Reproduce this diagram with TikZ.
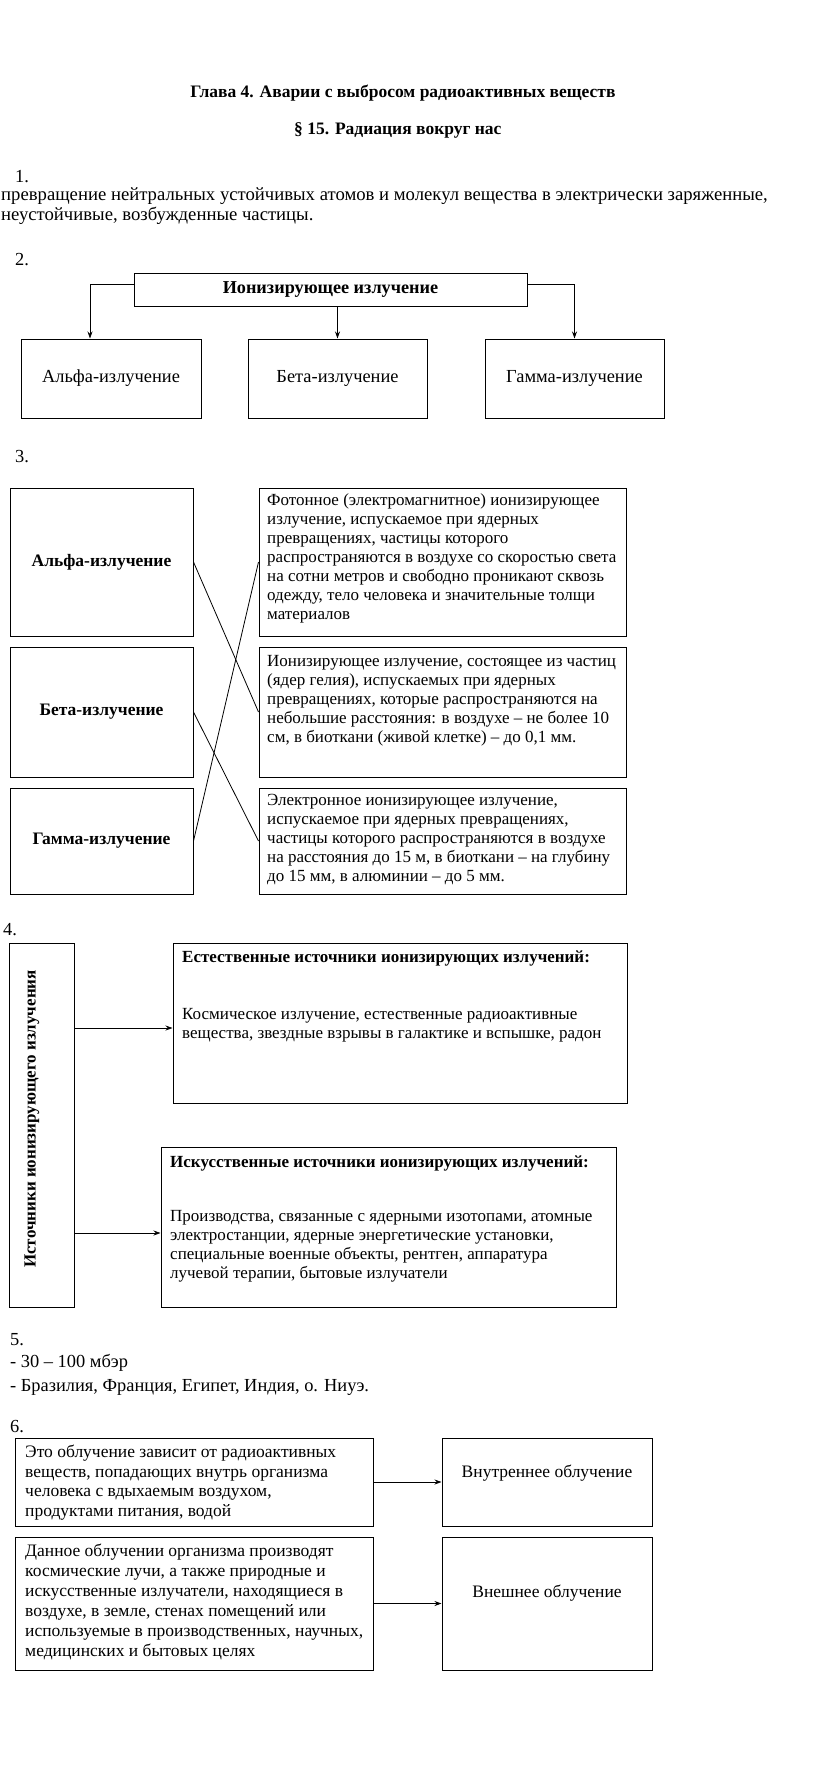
\documentclass[tikz,border=0pt]{standalone}
\usepackage{fontspec}
\setmainfont{Liberation Serif}
\usetikzlibrary{arrows.meta, positioning}

\begin{document}
\begin{tikzpicture}[
    x=1pt, y=-1pt,
    node distance=46pt,
    every node/.style={font=\fontsize{17}{19}\selectfont, inner sep=0pt},
    box/.style={draw, line width=1pt},
    txt/.style={anchor=north west, align=left},
    head/.style={font=\fontsize{17}{19}\selectfont\bfseries},
    big/.style={font=\fontsize{18.4}{20}\selectfont},
    num/.style={anchor=west, big},
    arrow/.style={-{Stealth[length=7pt, width=5pt]}, line width=0.8pt},
    link/.style={line width=0.8pt}
]
    \useasboundingbox (0,0) rectangle (823,1782);

    % heading
    \node[head, font=\fontsize{17.5}{19}\selectfont\bfseries] (title) at (403,93) {Глава 4. Аварии с выбросом радиоактивных веществ};
    \node[head, font=\fontsize{17.5}{19}\selectfont\bfseries, anchor=west] (par) at (294,130) {\S~15. Радиация вокруг нас};

    % 1
    \node[num] (n1) at (15,177) {1.};
    \node[txt, font=\fontsize{18.7}{20}\selectfont] (def) at (1,187) {превращение нейтральных устойчивых атомов и молекул вещества в электрически заряженные,\\неустойчивые, возбужденные частицы.};

    % 2
    \node[num] (n2) at (15,260) {2.};
    \node[box, font=\fontsize{18.2}{19}\selectfont\bfseries, minimum width=393pt, minimum height=33pt] (ion) at (330.5,289.5) {Ионизирующее излучение};
    \node[box, big, minimum width=180pt, minimum height=79pt] (alpha) at (111,378.5) {Альфа-излучение};
    \node[box, big, minimum width=179pt, minimum height=79pt, right=of alpha] (beta) {Бета-излучение};
    \node[box, big, minimum width=179pt, minimum height=79pt, right=57pt of beta] (gamma) {Гамма-излучение};

    \draw[arrow] ([yshift=5.5pt]ion.west) -| ([xshift=-21pt]alpha.north);
    \draw[arrow] (ion.south -| beta.north) -- (beta.north);
    \draw[arrow] ([yshift=5.5pt]ion.east) -| (gamma.north);

    % 3
    \node[num] (n3) at (15,457) {3.};
    \node[box, head, font=\fontsize{17.5}{19}\selectfont\bfseries, minimum width=183pt, minimum height=148pt] (alphaL) at (101.5,562) {Альфа-излучение};
    \node[box, head, font=\fontsize{17.5}{19}\selectfont\bfseries, minimum width=183pt, minimum height=130pt] (betaL) at (101.5,712) {Бета-излучение};
    \node[box, head, font=\fontsize{17.5}{19}\selectfont\bfseries, minimum width=183pt, minimum height=106pt] (gammaL) at (101.5,841) {Гамма-излучение};
    \node[box, minimum width=367pt, minimum height=148pt, right=65pt of alphaL] (gdesc) {};
    \node[box, minimum width=367pt, minimum height=130pt, right=65pt of betaL] (adesc) {};
    \node[box, minimum width=367pt, minimum height=106pt, right=65pt of gammaL] (bdesc) {};

    \node[txt] (gtext) at (267,493) {Фотонное (электромагнитное) ионизирующее\\излучение, испускаемое при ядерных\\превращениях, частицы которого\\распространяются в воздухе со скоростью света\\на сотни метров и свободно проникают сквозь\\одежду, тело человека и значительные толщи\\материалов};
    \node[txt] (atext) at (267,655) {Ионизирующее излучение, состоящее из частиц\\(ядер гелия), испускаемых при ядерных\\превращениях, которые распространяются на\\небольшие расстояния: в воздухе – не более 10\\см, в биоткани (живой клетке) – до 0,1 мм.};
    \node[txt] (btext) at (267,794) {Электронное ионизирующее излучение,\\испускаемое при ядерных превращениях,\\частицы которого распространяются в воздухе\\на расстояния до 15 м, в биоткани – на глубину\\до 15 мм, в алюминии – до 5 мм.};

    \draw[link] (alphaL.east) -- (adesc.west);
    \draw[link] (betaL.east) -- (bdesc.west);
    \draw[link] (gammaL.east) -- (gdesc.west);

    % 4
    \node[num] (n4) at (3,930) {4.};
    \node[box, minimum width=65pt, minimum height=364pt] (src) at (41.5,1125) {};
    \node[head, rotate=90] (srctext) at (32,1119) {Источники ионизирующего излучения};
    \node[box, minimum width=454pt, minimum height=160pt] (nat) at (400,1023) {};
    \node[box, minimum width=455pt, minimum height=160pt] (art) at (388.5,1227) {};
    \node[head, anchor=west] (nathead) at (182,958) {Естественные источники ионизирующих излучений:};
    \node[txt] (nattext) at (182,1008) {Космическое излучение, естественные радиоактивные\\вещества, звездные взрывы в галактике и вспышке, радон};
    \node[head, anchor=west] (arthead) at (170,1163) {Искусственные источники ионизирующих излучений:};
    \node[txt] (arttext) at (170,1210) {Производства, связанные с ядерными изотопами, атомные\\электростанции, ядерные энергетические установки,\\специальные военные объекты, рентген, аппаратура\\лучевой терапии, бытовые излучатели};

    \draw[arrow] ([yshift=-5pt]src.east |- nat.west) -- ([yshift=-5pt]nat.west);
    \draw[arrow] ([yshift=-6pt]src.east |- art.west) -- ([yshift=-6pt]art.west);

    % 5
    \node[num] (n5) at (10,1340) {5.};
    \node[num] (dose) at (10,1363) {- 30 – 100 мбэр};
    \node[num] (land) at (10,1387) {- Бразилия, Франция, Египет, Индия, о. Ниуэ.};

    % 6
    \node[num] (n6) at (10,1427) {6.};
    \node[box, minimum width=358pt, minimum height=88pt] (inA) at (194,1482) {};
    \node[box, minimum width=210pt, minimum height=88pt, right=68pt of inA] (inB) {};
    \node[box, minimum width=358pt, minimum height=133pt] (exA) at (194,1603.5) {};
    \node[box, minimum width=210pt, minimum height=133pt, right=68pt of exA] (exB) {};

    \node[txt, font=\fontsize{17.5}{19.5}\selectfont] (intext) at (25,1445) {Это облучение зависит от радиоактивных\\веществ, попадающих внутрь организма\\человека с вдыхаемым воздухом,\\продуктами питания, водой};
    \node[font=\fontsize{17.5}{19}\selectfont] (inname) at ([yshift=9pt]inB.center) {Внутреннее облучение};
    \node[txt, font=\fontsize{17.5}{20}\selectfont] (extext) at (25,1544) {Данное облучении организма производят\\космические лучи, а также природные и\\искусственные излучатели, находящиеся в\\воздухе, в земле, стенах помещений или\\используемые в производственных, научных,\\медицинских и бытовых целях};
    \node[font=\fontsize{17.5}{19}\selectfont] (exname) at ([yshift=10pt]exB.center) {Внешнее облучение};

    \draw[arrow] (inA) -- (inB);
    \draw[arrow] (exA) -- (exB);
\end{tikzpicture}
\end{document}
